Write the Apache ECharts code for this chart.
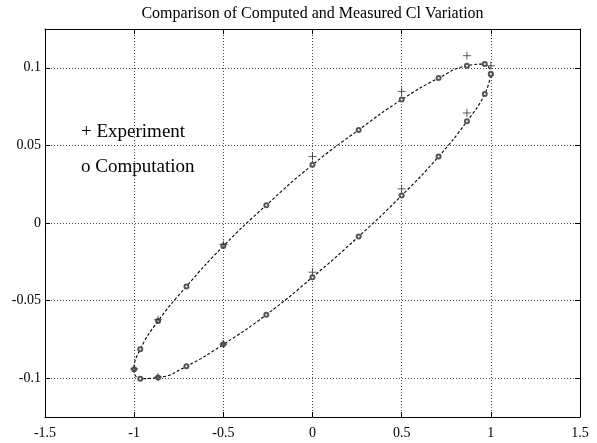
<!DOCTYPE html>
<html>
<head>
<meta charset="utf-8">
<script src="https://cdn.jsdelivr.net/npm/echarts@6/dist/echarts.min.js"></script>
<style>html,body{margin:0;padding:0;background:#fff}#c{width:597px;height:443px}</style>
</head>
<body>
<div id="c"></div>
<script>
// Computation (o) points, closed loop
var compX = [1, 0.966, 0.866, 0.707, 0.5, 0.259, 0, -0.259, -0.5, -0.707, -0.866, -0.966, -1, -0.966, -0.866, -0.707, -0.5, -0.259, 0, 0.259, 0.5, 0.707, 0.866, 0.966];
var compY = [0.096, 0.1024, 0.1013, 0.0934, 0.0795, 0.060, 0.0375, 0.0115, -0.0149, -0.0409, -0.0632, -0.0814, -0.0943, -0.1003, -0.0996, -0.0923, -0.0782, -0.0591, -0.0349, -0.0087, 0.0177, 0.0428, 0.0655, 0.0831];
// Experiment (+) points
var expX = [1, 0.866, 0.5, 0, -0.5, -0.866, -1, -0.866, -0.5, 0, 0.5, 0.866];
var expY = [0.1013, 0.1078, 0.0848, 0.0428, -0.0138, -0.0623, -0.094, -0.0993, -0.078, -0.0317, 0.022, 0.0709];
// Tick values
var xTicks = [-1.5, -1, -0.5, 0, 0.5, 1, 1.5];
var yTicks = [-0.1, -0.05, 0, 0.05, 0.1];

var titleText = 'Comparison of Computed and Measured Cl Variation';
var legendExp = '+ Experiment';
var legendComp = 'o Computation';

var compData = compX.map(function (x, i) { return [x, compY[i]]; });
compData.push([compX[0], compY[0]]);
var expData = expX.map(function (x, i) { return [x, expY[i]]; });

var font = '"Liberation Serif", "Times New Roman", serif';
var chart = echarts.init(document.getElementById('c'), null, {renderer: 'canvas'});

function fmt(v) { return String(Math.round(v * 1000) / 1000); }

var gridLine = {show: true, lineStyle: {color: '#444', width: 1, type: [1, 2]}};
var axisLineStyle = {show: true, onZero: false, lineStyle: {color: '#000', width: 1}};

chart.setOption({
  animation: false,
  backgroundColor: '#fff',
  grid: {left: 45, right: 17, top: 29, bottom: 26, containLabel: false},
  xAxis: [{
    type: 'value', min: -1.5, max: 1.5, interval: 0.5, position: 'bottom',
    axisLine: axisLineStyle,
    axisTick: {show: true, inside: true, length: 5, lineStyle: {color: '#000'}, customValues: xTicks},
    axisLabel: {show: true, margin: 9, color: '#000', fontFamily: font, fontSize: 14, formatter: fmt, customValues: xTicks},
    splitLine: gridLine
  }, {
    type: 'value', min: -1.5, max: 1.5, interval: 0.5, position: 'top',
    axisLine: axisLineStyle,
    axisTick: {show: true, inside: true, length: 5, lineStyle: {color: '#000'}},
    axisLabel: {show: false},
    splitLine: {show: false}
  }],
  yAxis: [{
    type: 'value', min: -0.125, max: 0.125, position: 'left',
    axisLine: axisLineStyle,
    axisTick: {show: true, inside: true, length: 5, lineStyle: {color: '#000'}, customValues: yTicks},
    axisLabel: {show: true, margin: 4, color: '#000', fontFamily: font, fontSize: 14, formatter: fmt, customValues: yTicks},
    splitLine: gridLine
  }, {
    type: 'value', min: -0.125, max: 0.125, position: 'right',
    axisLine: axisLineStyle,
    axisTick: {show: true, inside: true, length: 5, lineStyle: {color: '#000'}, customValues: yTicks},
    axisLabel: {show: false, customValues: yTicks},
    splitLine: {show: false}
  }],
  graphic: [
    {type: 'text', x: 312.5, y: 6, style: {text: titleText, font: '16px ' + font, fill: '#000', align: 'center', verticalAlign: 'top'}},
    {type: 'text', left: 81, top: 123, style: {text: legendExp, font: '19px ' + font, fill: '#000'}},
    {type: 'text', left: 81, top: 158, style: {text: legendComp, font: '19px ' + font, fill: '#000'}}
  ],
  series: [{
    name: 'Computation', type: 'line', data: compData, smooth: 0.5,
    xAxisIndex: 0, yAxisIndex: 0,
    symbol: 'emptyCircle', symbolSize: 4, showSymbol: true, showAllSymbol: true,
    lineStyle: {color: '#000', width: 1.1, type: [3, 2]},
    itemStyle: {color: '#555', borderColor: '#555', borderWidth: 0.9},
    z: 3
  }, {
    name: 'Experiment', type: 'scatter', data: expData,
    xAxisIndex: 0, yAxisIndex: 0,
    symbol: 'path://M5,0L5,10M0,5L10,5', symbolSize: 8,
    itemStyle: {color: 'none', borderColor: '#333', borderWidth: 1},
    z: 4
  }]
});
</script>
</body>
</html>
